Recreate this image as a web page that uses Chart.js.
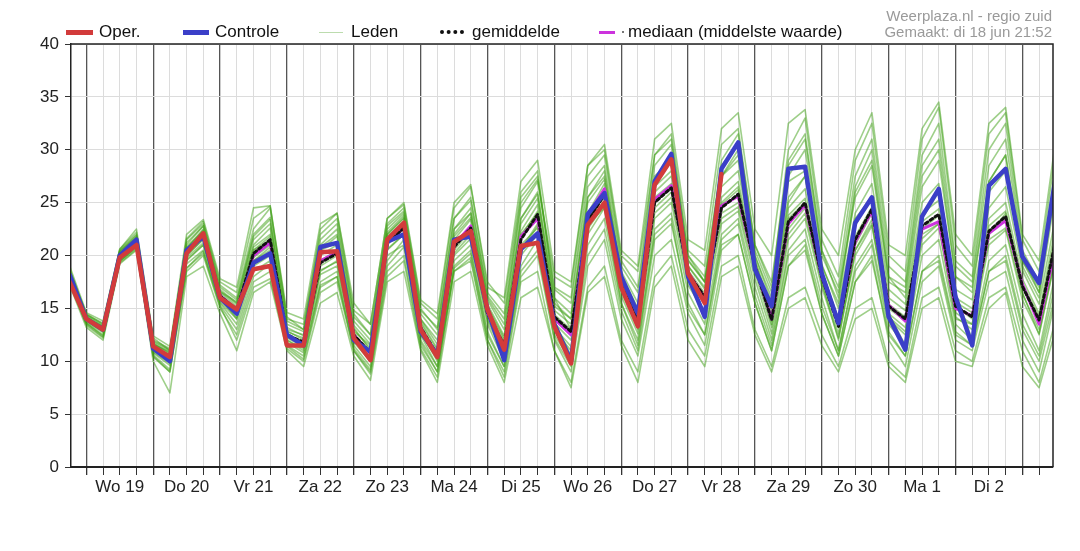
<!DOCTYPE html>
<html lang="nl">
<head>
  <meta charset="UTF-8">
  <title>Temperatuur pluim - regio zuid</title>
  <script src="https://cdn.jsdelivr.net/npm/chart.js"></script>
  <style>
    body {
      margin: 0;
      background: #fff;
      font-family: "Liberation Sans", Arial, sans-serif;
    }
    .wrap {
      position: relative;
      width: 1080px;
      height: 551px;
    }
    .lg {
      position: absolute;
      top: 23px;
      height: 18px;
      display: flex;
      align-items: center;
      font-size: 17px;
      color: #111;
      white-space: nowrap;
    }
    .lg i {
      display: inline-block;
      margin-right: 6px;
    }
    .stamp {
      position: absolute;
      right: 28px;
      top: 8px;
      text-align: right;
      font-size: 15px;
      line-height: 16px;
      color: #9a9a9a;
    }
  </style>
</head>
<body>
  <div class="wrap">
    <canvas id="pluim" width="1080" height="551"></canvas>

    <!-- legend -->
    <div class="lg" style="left:66px"><i style="width:27px;height:5px;background:#d23b3b"></i>Oper.</div>
    <div class="lg" style="left:183px"><i style="width:26px;height:5px;background:#3b3fc8"></i>Controle</div>
    <div class="lg" style="left:319px"><i style="width:24px;height:1px;background:#bcdcae;margin-right:8px"></i>Leden</div>
    <div class="lg" style="left:440px"><i style="width:24px;height:0;border-top:4px dotted #111;margin-right:8px"></i>gemiddelde</div>
    <div class="lg" style="left:599px"><i style="width:16px;height:3px;background:#cc33dd;margin-right:7px"></i><i style="width:2px;height:2px;background:#777;margin-right:4px"></i>mediaan (middelste waarde)</div>

    <div class="stamp">Weerplaza.nl - regio zuid<br>Gemaakt: di 18 jun 21:52</div>
  </div>

  <script>
    // time in hours from wo 19 jun 00:00, one value per 6 hours
    const hours = [-6, 0, 6, 12, 18, 24, 30, 36, 42, 48, 54, 60, 66, 72, 78, 84, 90, 96, 102, 108,
      114, 120, 126, 132, 138, 144, 150, 156, 162, 168, 174, 180, 186, 192, 198, 204, 210, 216, 222, 228,
      234, 240, 246, 252, 258, 264, 270, 276, 282, 288, 294, 300, 306, 312, 318, 324, 330, 336, 342, 348];

    const dagen = ['Wo 19', 'Do 20', 'Vr 21', 'Za 22', 'Zo 23', 'Ma 24', 'Di 25',
      'Wo 26', 'Do 27', 'Vr 28', 'Za 29', 'Zo 30', 'Ma 1', 'Di 2'];

    // operational run (stops at vr 28 12:00)
    const oper = [17.5, 14.0, 13.0, 19.8, 21.0, 11.4, 10.4, 20.2, 22.1, 16.0, 14.9, 18.7, 19.0, 11.5, 11.5, 20.3,
      20.4, 12.2, 10.1, 21.5, 23.1, 13.0, 10.4, 21.3, 22.3, 14.9, 11.1, 20.9, 21.2, 13.3, 9.8, 22.9,
      25.0, 17.0, 13.3, 26.7, 29.1, 18.3, 15.5, 27.7];

    const controle = [18.2, 14.0, 13.0, 20.0, 21.5, 11.2, 10.0, 20.5, 21.8, 16.0, 14.5, 19.3, 20.2, 12.5, 11.5, 20.8,
      21.2, 12.0, 10.9, 21.3, 22.0, 12.8, 10.6, 21.5, 21.8, 14.9, 10.1, 20.6, 22.1, 13.5, 10.0, 23.9,
      25.9, 18.0, 14.5, 27.0, 29.6, 18.0, 14.2, 28.2, 30.7, 18.7, 15.2, 28.2, 28.4, 18.3, 13.6, 23.1,
      25.5, 14.2, 11.1, 23.7, 26.3, 16.1, 11.5, 26.6, 28.2, 19.9, 17.4, 27.5];

    const gemiddelde = [18.0, 14.0, 13.0, 20.0, 21.3, 11.3, 10.3, 20.3, 21.8, 16.2, 14.8, 20.2, 21.5, 12.5, 11.8, 19.3,
      20.2, 12.5, 10.8, 21.2, 22.6, 13.2, 10.6, 20.8, 22.6, 14.5, 11.5, 21.5, 23.9, 14.2, 12.8, 23.2,
      25.8, 17.2, 13.8, 25.0, 26.4, 18.3, 16.1, 24.5, 25.8, 19.0, 13.9, 23.2, 25.0, 18.0, 13.3, 21.5,
      24.4, 15.2, 14.0, 22.8, 23.9, 15.2, 14.2, 22.3, 23.7, 17.1, 13.9, 21.5];

    const mediaan = [18.0, 14.0, 13.0, 20.0, 21.3, 11.3, 10.4, 20.4, 21.9, 16.2, 14.9, 20.0, 21.2, 12.4, 11.7, 19.5,
      20.3, 12.5, 10.7, 21.3, 22.6, 13.2, 10.5, 21.0, 22.8, 14.5, 11.3, 21.8, 23.5, 14.0, 12.5, 23.8,
      26.3, 17.2, 13.6, 25.3, 26.6, 18.4, 16.0, 24.7, 25.6, 19.0, 14.0, 23.0, 24.8, 18.0, 13.5, 21.3,
      24.2, 15.3, 13.8, 22.5, 23.2, 15.0, 14.3, 22.1, 23.3, 17.3, 13.5, 21.0];

    // ensemble members
    const leden = [
      [18.3,14.2,13.2,20.2,21.6, 11.6,10.8,20.8,22.3, 16.5,15.2,20.8,22.0, 12.8,12.2,20.0,21.0, 13.0,11.2,21.8,23.2,
       13.6,11.0,21.5,23.4, 15.0,12.0,22.3,24.8, 14.8,13.5,24.0,26.8, 17.8,14.5,26.0,27.5, 19.0,16.8,25.5,27.0,
       19.6,14.5,24.5,26.3, 18.6,14.0,22.8,25.6, 16.0,14.8,24.0,25.2, 16.0,15.0,23.5,25.0, 17.8,14.5,22.8],
      [17.8,13.8,12.8,19.7,21.0, 11.0,10.0,19.8,21.2, 15.8,14.2,19.5,20.8, 12.2,11.4,18.6,19.4, 12.0,10.4,20.6,22.0,
       12.8,10.0,20.2,22.0, 14.0,11.0,20.6,23.0, 13.6,12.0,22.5,24.8, 16.6,13.0,24.0,25.5, 17.8,15.4,23.5,24.6,
       18.4,13.2,22.0,24.0, 17.4,12.6,20.5,23.4, 14.5,13.2,21.6,23.0, 14.6,13.5,21.5,22.6, 16.4,13.0,20.4],
      [18.6,14.5,13.5,20.5,22.0, 12.0,11.2,21.5,23.0, 17.2,16.0,22.5,24.5, 14.0,13.5,22.0,23.5, 14.5,12.5,23.0,24.5,
       15.0,13.0,23.5,25.5, 16.5,14.5,25.5,27.5, 17.0,16.0,27.5,29.5, 19.5,17.0,29.5,31.5, 20.5,19.0,30.5,32.0,
       21.0,17.5,29.0,31.5, 20.5,17.0,27.5,31.0, 19.0,17.5,29.5,32.5, 19.5,18.0,30.0,32.5, 20.5,17.5,28.5],
      [17.2,13.2,12.0,19.2,20.5, 10.0,7.0,18.0,19.0, 14.5,11.0,16.5,17.5, 11.0,9.5,15.5,16.5, 10.5,8.2,17.5,18.5,
       11.0,8.0,17.5,18.5, 11.5,8.0,16.0,17.0, 11.0,8.0,17.0,19.0, 12.0,9.0,18.0,20.0, 13.0,10.5,19.0,20.0,
       13.0,9.5,16.0,17.0, 12.5,9.5,15.0,16.0, 10.0,8.5,16.0,17.0, 11.0,10.0,16.0,17.0, 11.0,8.0,14.0],
      [19.0,14.6,13.8,20.6,22.5, 12.4,11.4,22.0,23.4, 17.8,17.0,24.5,24.7, 14.6,14.0,23.0,24.0, 15.5,13.5,23.5,24.8,
       15.5,14.0,24.5,26.5, 17.5,15.5,26.0,28.0, 16.0,13.0,23.0,24.5, 15.5,12.0,22.0,23.5, 15.0,12.5,21.0,22.0,
       15.5,11.0,19.0,21.0, 14.5,10.5,17.5,19.5, 12.5,10.5,18.5,19.5, 12.5,11.5,18.5,19.5, 13.0,10.0,16.5],
      [17.5,13.5,12.3,19.3,20.6, 10.5,9.0,18.5,20.0, 15.0,12.5,17.5,18.5, 11.2,10.0,16.5,17.5, 11.0,9.0,18.5,20.0,
       11.5,9.0,19.0,20.5, 12.5,9.5,19.0,21.5, 13.0,11.0,23.0,26.0, 17.5,14.0,27.0,29.5, 19.5,17.5,29.0,31.5,
       21.0,17.0,30.0,33.0, 21.5,18.0,29.0,32.5, 20.0,18.5,31.0,34.0, 21.0,19.0,31.5,33.5, 21.5,18.5,30.0],
      [18.1,14.0,13.0,20.1,21.4, 11.3,10.2,20.5,22.0, 16.0,14.8,19.5,20.5, 12.6,11.8,20.5,21.2, 12.4,10.8,21.4,22.4,
       13.0,10.8,21.4,22.0, 14.8,10.8,21.0,22.6, 13.8,10.5,23.5,25.8, 17.6,14.2,26.5,29.0, 18.2,14.5,27.5,30.0,
       18.8,15.0,27.0,28.0, 18.4,14.0,23.5,25.5, 14.5,11.5,23.5,26.0, 16.5,12.0,26.0,28.0, 19.5,17.0,26.5],
      [18.4,14.3,13.3,20.3,21.8, 11.8,11.0,21.0,22.8, 16.8,15.5,21.5,23.0, 13.5,12.8,21.0,22.5, 13.8,12.0,22.5,24.0,
       14.5,12.5,22.5,24.0, 15.8,13.0,23.5,26.0, 16.0,14.5,25.5,27.5, 18.5,15.5,25.0,26.5, 18.5,16.0,24.0,25.0,
       19.0,13.5,22.5,24.5, 17.5,12.0,20.5,23.0, 14.0,12.5,22.0,23.0, 14.0,13.5,22.0,24.0, 16.5,12.5,20.0],
      [17.6,13.6,12.5,19.5,20.8, 10.8,9.6,19.2,20.5, 15.5,13.5,18.5,19.5, 11.8,10.8,17.5,18.5, 11.5,9.5,19.5,21.5,
       12.0,9.5,19.5,21.0, 13.5,10.0,20.0,22.0, 12.5,10.0,21.0,23.5, 15.5,11.5,22.5,24.0, 16.5,13.5,22.0,23.5,
       17.0,12.0,20.5,22.5, 16.0,11.0,19.0,21.5, 13.5,11.5,20.0,21.5, 13.5,12.0,19.5,21.0, 14.5,11.0,18.5],
      [18.2,14.1,13.1,20.0,21.2, 11.5,10.5,20.0,21.5, 16.2,15.0,20.5,21.8, 13.0,12.5,19.5,20.5, 12.8,11.5,22.0,23.5,
       14.0,12.0,22.5,24.5, 16.0,13.5,24.5,27.0, 18.0,17.0,28.5,30.5, 20.5,19.0,31.0,32.5, 21.5,20.5,32.0,33.5,
       22.5,20.0,32.5,33.8, 22.5,20.0,30.0,33.5, 21.0,20.0,32.0,34.5, 22.0,20.0,32.5,34.0, 22.0,19.5,31.0],
      [17.9,13.9,12.9,19.9,21.1, 11.2,10.0,19.5,21.0, 16.0,14.0,19.0,20.0, 12.0,11.0,18.5,19.5, 12.0,10.0,20.0,21.0,
       12.5,9.5,18.5,19.5, 12.0,8.5,17.5,18.5, 11.0,7.5,16.5,18.0, 11.5,8.0,17.0,19.0, 12.0,9.5,18.0,19.0,
       12.5,9.0,15.0,16.0, 11.5,9.0,14.0,15.0, 9.5,8.0,15.0,16.0, 10.0,9.5,15.0,16.5, 9.5,7.5,13.0],
      [18.0,14.1,13.1,20.2,21.3, 11.4,10.6,20.4,21.9, 16.3,15.0,20.5,21.5, 12.4,11.6,19.5,20.3, 12.6,10.6,21.0,22.8,
       13.4,10.4,20.5,22.4, 14.4,11.4,21.8,24.2, 14.0,12.6,23.8,26.0, 17.4,13.6,25.5,26.8, 18.6,16.4,24.8,26.2,
       19.2,14.0,23.8,25.4, 18.2,13.5,21.8,24.6, 15.4,14.2,23.2,24.4, 15.6,14.6,22.8,24.2, 17.4,14.2,22.0],
      [18.8,14.4,13.6,20.6,22.2, 12.2,11.0,21.6,23.2, 17.5,16.5,23.5,24.7, 14.2,13.0,22.5,24.0, 14.8,13.5,23.5,25.0,
       15.8,14.5,25.0,26.7, 17.0,16.0,27.0,29.0, 18.5,17.5,28.5,30.0, 20.0,18.5,29.5,31.0, 20.0,17.5,27.5,29.0,
       19.5,15.0,25.0,27.5, 19.0,15.5,26.0,29.0, 18.0,16.0,26.5,29.0, 18.0,16.5,27.0,29.5, 19.0,16.0,26.0],
      [17.4,13.4,12.2,19.4,20.9, 10.6,9.2,18.8,20.2, 15.2,12.0,17.0,17.8, 11.4,10.2,17.0,18.0, 11.0,8.8,18.0,19.5,
       11.2,8.5,18.5,19.8, 12.0,9.0,18.0,20.0, 12.0,9.0,19.0,21.5, 14.0,10.5,20.0,21.5, 14.5,11.5,20.5,22.0,
       15.5,11.0,19.0,20.5, 14.5,10.5,17.5,20.0, 12.0,9.5,17.5,19.0, 12.0,11.0,17.5,18.5, 12.0,9.0,16.0],
      [18.2,14.2,13.1,19.9,21.4, 11.6,10.9,20.6,22.4, 16.6,15.4,21.0,22.6, 13.2,12.4,20.5,21.8, 13.4,11.6,22.0,23.6,
       14.0,11.6,21.8,23.6, 15.4,12.4,23.0,25.4, 15.2,14.0,25.0,27.2, 18.2,15.0,27.5,29.0, 19.6,17.5,26.5,28.0,
       20.0,15.5,25.5,27.5, 19.2,15.0,24.0,26.8, 16.8,15.4,25.0,26.8, 16.8,15.8,24.5,26.5, 18.6,15.4,23.8],
      [17.7,13.7,12.7,19.6,21.0, 10.9,9.8,19.6,21.0, 15.6,14.0,19.8,21.0, 12.0,11.2,18.2,19.0, 11.8,10.0,20.5,22.0,
       12.6,10.2,20.0,21.6, 13.8,10.6,20.4,22.8, 13.2,11.4,22.0,24.5, 16.2,12.6,23.5,25.0, 17.2,14.6,23.0,24.2,
       17.8,12.6,21.5,23.5, 17.0,12.2,20.0,22.8, 14.2,12.8,21.0,22.6, 14.2,13.0,21.0,22.4, 15.8,12.6,19.8],
      [18.5,14.4,13.4,20.4,21.9, 11.9,11.1,21.2,22.8, 17.0,15.8,22.0,23.6, 13.8,13.0,21.5,23.0, 14.2,12.5,22.8,24.2,
       14.8,13.2,23.5,25.2, 16.2,14.0,25.0,27.2, 16.8,15.5,26.5,28.5, 19.0,16.5,28.5,30.5, 20.0,18.0,28.5,30.5,
       20.5,16.5,27.5,30.0, 20.0,16.5,25.5,28.5, 17.5,16.5,27.5,30.0, 18.0,17.0,27.0,29.5, 19.5,16.5,27.0],
      [17.5,13.6,12.4,19.5,20.7, 10.4,9.0,18.8,20.4, 15.3,13.0,18.0,19.2, 11.5,10.5,17.2,18.0, 11.2,9.2,19.0,20.8,
       11.8,9.0,18.8,20.2, 12.8,9.5,18.5,20.5, 12.2,9.5,20.0,22.5, 14.8,11.0,21.5,23.0, 15.5,12.5,21.5,23.0,
       16.2,11.5,20.0,21.5, 15.2,11.0,18.5,21.0, 12.8,10.5,18.5,20.0, 12.8,11.5,18.5,20.0, 13.5,10.5,17.5],
      [18.0,14.0,13.0,20.0,21.5, 11.1,10.2,20.0,21.6, 16.1,14.6,20.0,21.2, 12.5,11.8,19.0,20.0, 12.5,10.8,21.2,22.8,
       13.0,10.6,21.0,22.8, 14.6,11.8,22.0,24.0, 14.4,13.0,23.5,25.5, 17.0,13.8,24.5,26.0, 18.4,16.0,25.0,26.5,
       19.0,13.8,23.5,25.0, 18.0,13.2,21.0,24.0, 15.0,13.8,22.5,23.8, 15.2,14.0,22.0,23.5, 17.0,13.8,21.5],
      [18.3,14.1,13.3,20.4,21.7, 11.7,10.7,20.7,22.5, 16.6,15.6,21.8,23.4, 12.9,12.0,20.8,22.0, 13.2,11.0,22.2,23.8,
       13.8,11.2,22.0,24.0, 15.2,12.2,23.5,25.8, 15.5,14.0,25.5,28.0, 18.0,14.8,26.5,28.0, 19.0,17.0,27.5,29.5,
       20.0,16.0,28.5,31.0, 20.5,16.0,26.5,30.0, 18.0,17.0,28.5,31.0, 19.0,17.5,28.5,31.0, 20.0,16.5,28.0]
    ];

    const xy = arr => arr.map((v, i) => ({ x: hours[i], y: v }));

    // tick positions every 6 hours, day lines at multiples of 24
    const xTicks = [];
    for (let h = 0; h <= 342; h += 6) xTicks.push(h);

    // frame around the plot (top and right edge)
    const frame = {
      id: 'frame',
      afterDatasetsDraw(chart) {
        const a = chart.chartArea, c = chart.ctx;
        c.save();
        c.strokeStyle = '#222';
        c.lineWidth = 1.5;
        c.beginPath();
        c.moveTo(a.left, a.top);
        c.lineTo(a.right, a.top);
        c.lineTo(a.right, a.bottom);
        c.stroke();
        c.restore();
      }
    };

    Chart.defaults.font.family = '"Liberation Sans", Arial, sans-serif';
    Chart.defaults.font.size = 17;
    Chart.defaults.color = '#222';

    const datasets = [
      { label: 'Oper.', data: xy(oper), borderColor: '#d23b3b', borderWidth: 4.5 },
      { label: 'Controle', data: xy(controle), borderColor: '#3b3fc8', borderWidth: 4.5 },
      { label: 'gemiddelde', data: xy(gemiddelde), borderColor: '#111', borderWidth: 3, borderDash: [3, 3] },
      { label: 'mediaan', data: xy(mediaan), borderColor: '#cc33dd', borderWidth: 3 }
    ];
    leden.forEach(m => {
      datasets.push({ label: 'Leden', data: xy(m), borderColor: 'rgba(62, 160, 20, 0.5)', borderWidth: 1.6 });
    });

    new Chart(document.getElementById('pluim'), {
      type: 'line',
      data: { datasets: datasets },
      options: {
        responsive: false,
        devicePixelRatio: 1,
        animation: false,
        layout: { padding: { top: 44, right: 27, bottom: 44, left: 0 } },
        elements: {
          point: { radius: 0 },
          line: { tension: 0, borderJoinStyle: 'round', borderCapStyle: 'round' }
        },
        plugins: {
          legend: { display: false },
          tooltip: { enabled: false }
        },
        scales: {
          x: {
            type: 'linear',
            min: -5.5,
            max: 347,
            afterFit: s => { s.height = 40; },
            afterBuildTicks: s => { s.ticks = xTicks.map(v => ({ value: v })); },
            border: { color: '#222', width: 2 },
            grid: {
              color: c => (c.tick && c.tick.value % 24 === 0 ? '#555' : '#dcdcdc'),
              lineWidth: c => (c.tick && c.tick.value % 24 === 0 ? 1.3 : 1),
              tickColor: '#333',
              tickLength: 8
            },
            ticks: {
              autoSkip: false,
              maxRotation: 0,
              padding: 2,
              callback: v => (v % 24 === 12 ? (dagen[(v - 12) / 24] || '') : '')
            }
          },
          y: {
            min: 0,
            max: 40,
            afterFit: s => { s.width = 71; },
            border: { color: '#222', width: 1.5 },
            grid: { color: '#dcdcdc', tickColor: '#333', tickLength: 6 },
            ticks: { stepSize: 5, padding: 6 }
          }
        }
      },
      plugins: [frame]
    });
  </script>
</body>
</html>
